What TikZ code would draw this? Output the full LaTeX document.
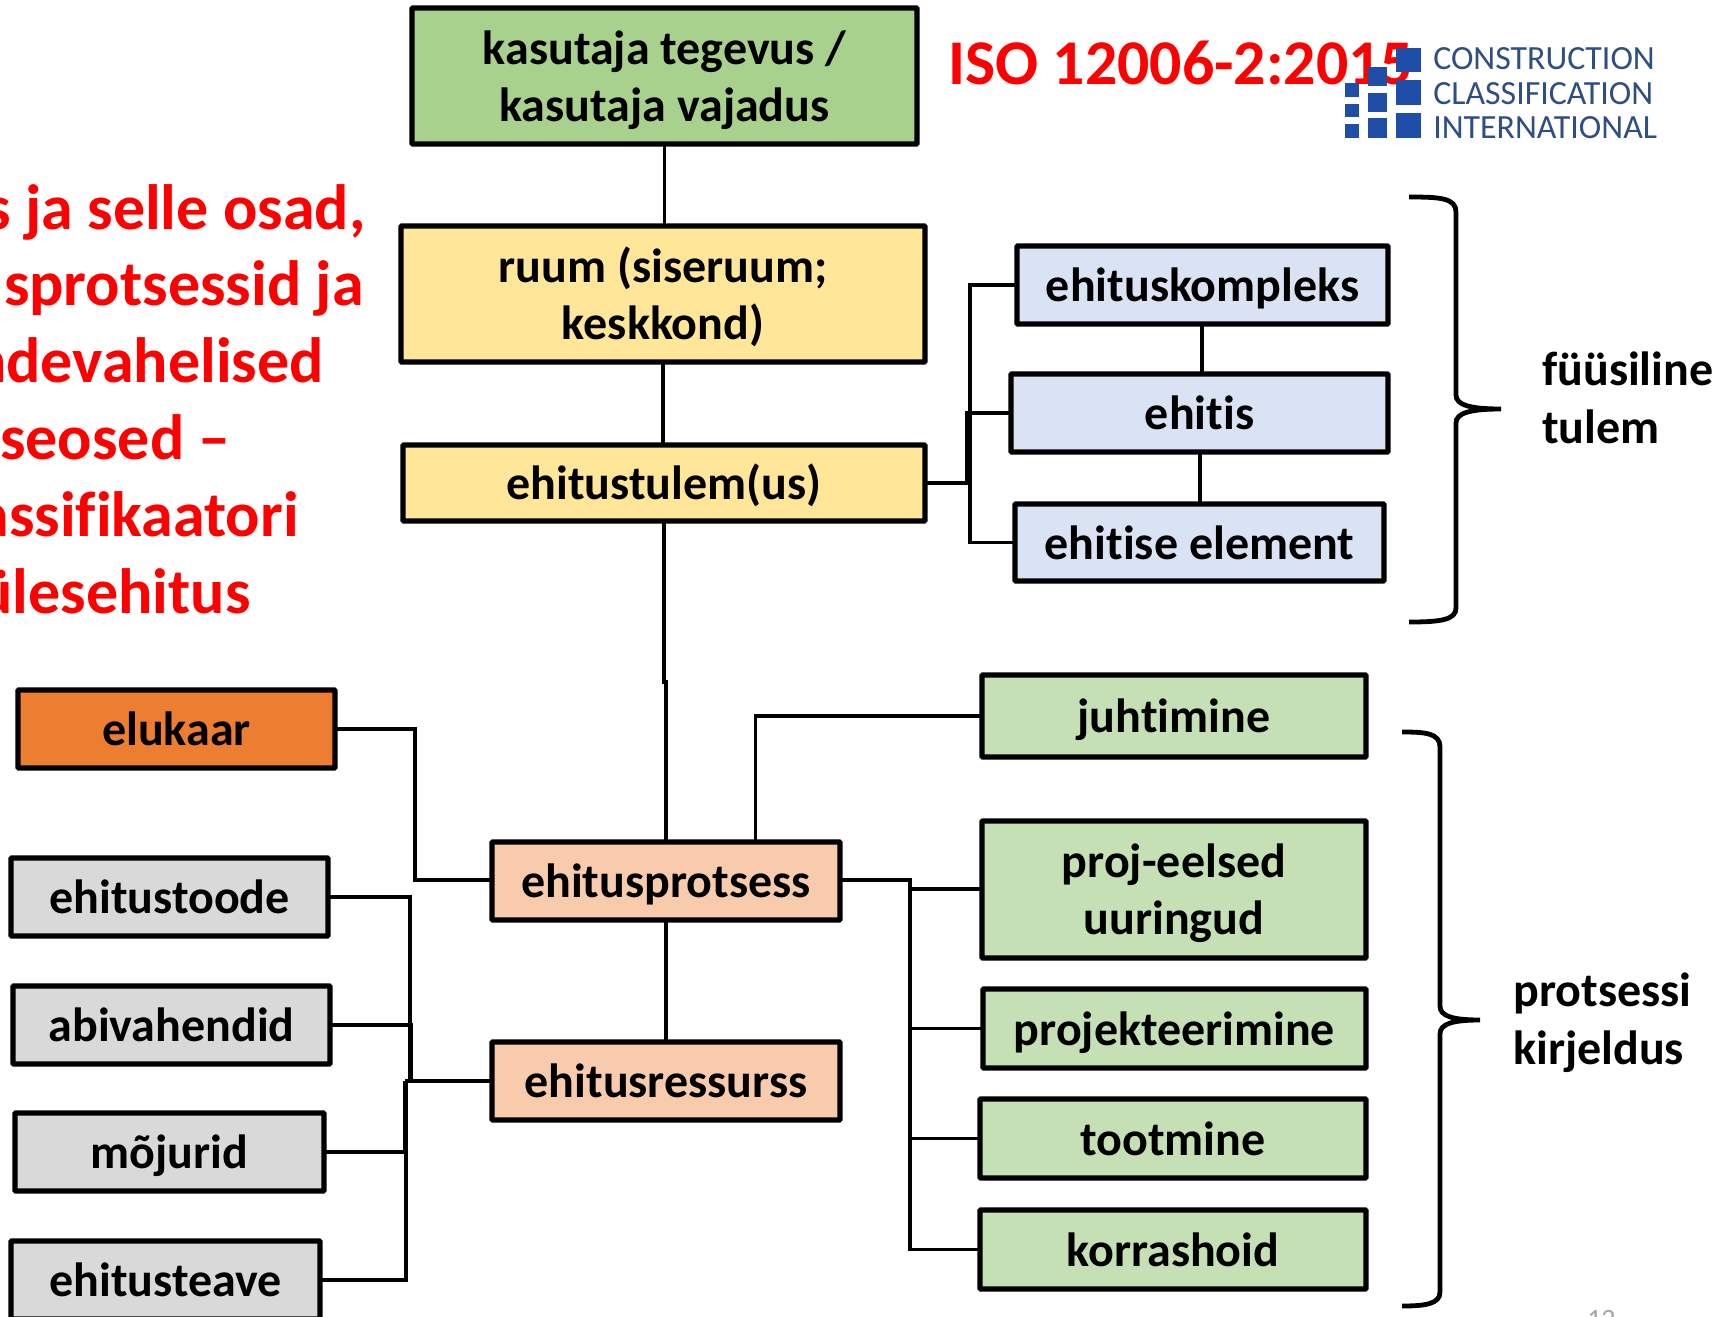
\documentclass[tikz,border=0pt]{standalone}
\usepackage{fontspec}
\setmainfont[Ligatures=NoCommon]{Carlito}
\definecolor{cgreen}{HTML}{A9D18E}
\definecolor{cyellow}{HTML}{FFE699}
\definecolor{cblue}{HTML}{DAE3F3}
\definecolor{corange}{HTML}{ED7D31}
\definecolor{cgrey}{HTML}{D9D9D9}
\definecolor{cpeach}{HTML}{F8CBAD}
\definecolor{clgreen}{HTML}{C5E0B4}
\definecolor{logoblue}{HTML}{1F4EA8}
\definecolor{logotext}{HTML}{2F4F84}
\tikzset{
  box/.style={draw=black,line width=3.8pt,rounded corners=0.6pt,inner sep=0pt,outer sep=0pt,align=center,text=black,
     font=\fontsize{36}{42.75}\selectfont\bfseries},
  link/.style={draw=black,line width=2.5pt,line join=miter},
  brace/.style={draw=black,line width=3.6pt,line cap=butt},
  redtxt/.style={text=red,inner sep=0pt,font=\fontsize{48}{55}\selectfont\bfseries,anchor=base east},
  sidetxt/.style={inner sep=0pt,anchor=base west,text=black,font=\fontsize{36}{42.75}\selectfont\bfseries},
  logotxt/.style={inner sep=0pt,anchor=base west,text=logotext,font=\fontsize{25.4}{30}\selectfont},
  logosq/.style={fill=logoblue,draw=none}
}
\newcommand\st{\vrule height 33.9pt depth 8.85pt width 0pt\relax}
\newcommand\bx[7]{\node[box,fill=#6,minimum width={(#4-#2)*0.75pt},minimum height={(#5-#3)*0.75pt}] (#1) at ({(#2+#4)/2},{(#3+#5)/2}) {#7};}
\begin{document}
\begin{tikzpicture}[x=0.75pt,y=-0.75pt]
\useasboundingbox (0,0) rectangle (1721,1317);
\clip (0,0) rectangle (1721,1317);
\fill[white] (0,0) rectangle (1721,1317);
% boxes
\bx{kas}{412}{8}{917}{144}{cgreen}{\st kasutaja tegevus /\\\st kasutaja vajadus}
\bx{ruum}{401}{226}{925}{362}{cyellow}{\st ruum (siseruum;\\\st keskkond)}
\bx{tulem}{403}{445}{925}{521}{cyellow}{\st ehitustulem(us)}
\bx{kompl}{1017}{246}{1388}{324}{cblue}{\st ehituskompleks}
\bx{ehitis}{1011}{374}{1388}{452}{cblue}{\st ehitis}
\bx{elem}{1015}{504}{1384}{581}{cblue}{\st ehitise element}
\bx{elukaar}{18}{690}{335}{768}{corange}{\st elukaar}
\bx{toode}{11}{858}{328}{936}{cgrey}{\st ehitustoode}
\bx{abi}{13}{986}{330}{1064}{cgrey}{\st abivahendid}
\bx{moj}{15}{1113}{324}{1191}{cgrey}{\st mõjurid}
\bx{teave}{11}{1241}{320}{1319}{cgrey}{\st ehitusteave}
\bx{prots}{492}{842}{840}{920}{cpeach}{\st ehitusprotsess}
\bx{ress}{492}{1042}{840}{1120}{cpeach}{\st ehitusressurss}
\bx{juht}{982}{675}{1366}{757}{clgreen}{\st juhtimine}
\bx{proj}{982}{821}{1366}{958}{clgreen}{\st proj-eelsed\\\st uuringud}
\bx{projt}{983}{989}{1366}{1068}{clgreen}{\st projekteerimine}
\bx{toot}{980}{1099}{1366}{1178}{clgreen}{\st tootmine}
\bx{kor}{980}{1210}{1366}{1289}{clgreen}{\st korrashoid}
% helper points
\coordinate (jog) at (666,682);
\coordinate (jr) at (970,483);
\coordinate (jr2) at (967,483);
\coordinate (jl) at (415,880);
\coordinate (ju) at (755.5,716);
\coordinate (jp) at (910,880);
\coordinate (jp2) at (912,889);
\coordinate (jx1) at (410,1081);
\coordinate (jx2) at (411.5,1081);
\coordinate (jx3) at (405,1081);
\coordinate (jx4) at (406,1081);
% connectors
\draw[link] (kas.south) -- (kas.south |- ruum.north);
\draw[link] (ruum.south) -- (ruum.south |- tulem.north);
\draw[link] (tulem.south) -- (tulem.south |- jog) -- (jog) -- (jog |- prots.north);
\draw[link] (prots.south -| jog) -- (jog |- ress.north);
\draw[link] (tulem.east |- jr) -- (jr);
\draw[link] (kompl.west) -- (kompl.west -| jr) -- (elem.west -| jr) -- (elem.west);
\draw[link] (ehitis.west) -- (ehitis.west -| jr2) -- (jr2);
\draw[link] (1202,324) -- (1202,374);
\draw[link] (1200,452) -- (1200,504);
\draw[link] (elukaar.east) -- (elukaar.east -| jl) -- (jl) -- (jl -| prots.west);
\draw[link] (ju |- prots.north) -- (ju) -- (ju -| juht.west);
\draw[link] (prots.east |- jp) -- (jp) -- (jp |- kor.west) -- (kor.west);
\draw[link] (jp2) -- (jp2 -| proj.west);
\draw[link] (jp |- projt.west) -- (projt.west);
\draw[link] (jp |- toot.west) -- (toot.west);
\draw[link] (ress.west) -- (ress.west -| jx3);
\draw[link] (toode.east) -- (toode.east -| jx1) -- (jx1);
\draw[link] (abi.east) -- (abi.east -| jx2) -- (jx2);
\draw[link] (moj.east) -- (moj.east -| jx3) -- (jx3);
\draw[link] (teave.east) -- (teave.east -| jx4) -- (jx4);
% braces
\draw[brace] (1409,197) .. controls (1440,197) and (1456,198) .. (1456,212) -- (1456,395) .. controls (1456,405) and (1470,409) .. (1501,409) .. controls (1470,409) and (1456,413) .. (1456,423) -- (1456,608) .. controls (1456,620) and (1440,622) .. (1409,622);
\draw[brace] (1402,732) .. controls (1425,732) and (1440,733) .. (1440,747) -- (1440,1006) .. controls (1440,1016) and (1452,1020) .. (1480,1020) .. controls (1452,1020) and (1440,1024) .. (1440,1034) -- (1440,1292) .. controls (1440,1304) and (1425,1306) .. (1402,1306);
% side text
\node[sidetxt] (t1) at (1542,385) {füüsiline};
\node[sidetxt] (t2) at (1542,443) {tulem};
\node[sidetxt] (t3) at (1513,1006) {protsessi};
\node[sidetxt] (t4) at (1513,1064) {kirjeldus};
% red text
\node[redtxt] (r1) at (366,229) {s ja selle osad,};
\node[redtxt] (r2) at (364,305) {sprotsessid ja};
\node[redtxt] (r3) at (324,382) {ndevahelised};
\node[redtxt] (r4) at (231,459) {seosed –};
\node[redtxt] (r5) at (299,536) {assifikaatori};
\node[redtxt] (r6) at (251,613) {ülesehitus};
\node[redtxt,anchor=base west,font=\fontsize{47.8}{55}\selectfont\bfseries] (iso) at (948,84) {ISO 12006-2:2015};
% logo
\foreach \a/\b in {48/72,80/105,113/138} {\fill[logosq] (1396,\a) rectangle (1421,\b);}
\foreach \a/\b in {67/86,93/112,118/138} {\fill[logosq] (1368,\a) rectangle (1387,\b);}
\foreach \a/\b in {83/97,104/117,124/138} {\fill[logosq] (1345,\a) rectangle (1359,\b);}
\node[logotxt] (l1) at (1433,69) {CONSTRUCTION};
\node[logotxt] (l2) at (1433,104) {CLASSIFICATION};
\node[logotxt] (l3) at (1433,138) {INTERNATIONAL};
\node[inner sep=0pt,anchor=base west,text=gray!70,font=\fontsize{21}{25}\selectfont] (pg) at (1587,1328) {12};
\end{tikzpicture}
\end{document}
